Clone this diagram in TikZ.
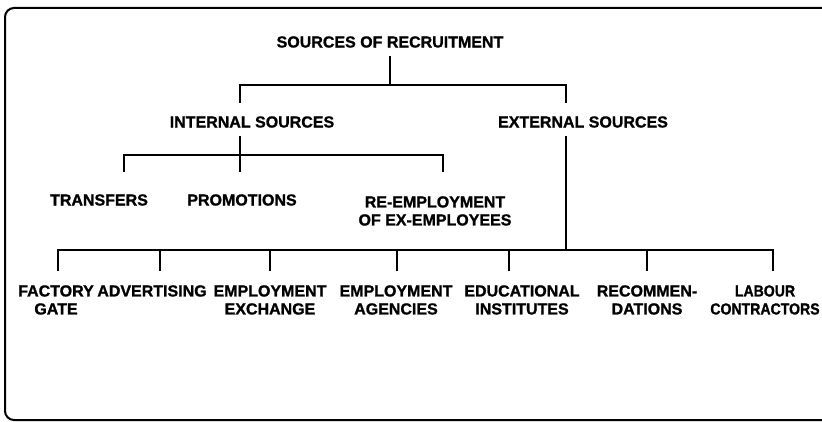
\documentclass[tikz,border=0pt]{standalone}
\usepackage{fontspec}
\newfontfamily\lblfont{Liberation Sans Bold}[FakeBold=1.2]
\newfontfamily\lblnarrow{Liberation Sans Bold}[FakeBold=1.2,FakeStretch=0.88]
\begin{document}
\begin{tikzpicture}[x=1pt,y=-1pt,line width=2.6pt,
	lbl/.style={font=\lblfont\fontsize{16}{18}\selectfont,align=center,inner xsep=1pt,inner ysep=7pt}]
	\clip[use as bounding box] (0,0) rectangle (822,422);
	\draw[line width=2pt,rounded corners=9pt] (5,8) rectangle (850,420);
	\node[lbl] (src) at (390,42) {SOURCES OF RECRUITMENT};
	\node[lbl] (int) at (252,122) {INTERNAL SOURCES};
	\node[lbl] (ext) at (583,122) {EXTERNAL SOURCES};
	\node[lbl] (tra) at (99,200) {TRANSFERS};
	\node[lbl] (pro) at (242,200) {PROMOTIONS};
	\node[lbl,anchor=north] (ree) at (435,188) {RE-EMPLOYMENT\\OF EX-EMPLOYEES};
	\node[lbl,anchor=north] (fac) at (56,277) {FACTORY\\GATE};
	\node[lbl,anchor=north] (adv) at (152,277) {ADVERTISING};
	\node[lbl,anchor=north] (exc) at (270,277) {EMPLOYMENT\\EXCHANGE};
	\node[lbl,anchor=north] (agn) at (396,277) {EMPLOYMENT\\AGENCIES};
	\node[lbl,anchor=north] (edu) at (522,277) {EDUCATIONAL\\INSTITUTES};
	\node[lbl,anchor=north] (rec) at (647,277) {RECOMMEN-\\DATIONS};
	\node[lbl,anchor=north,font=\lblnarrow\fontsize{16}{18}\selectfont] (lab) at (765,277) {LABOUR\\CONTRACTORS};
	\coordinate (topBar) at (390,85);
	\coordinate (intTop) at (240,103);
	\coordinate (extTop) at (566,103);
	\draw (src.south) -- (topBar);
	\draw (intTop) |- (topBar) -| (extTop);
	\coordinate (intBar) at (240,155);
	\coordinate (traTop) at (124,172);
	\coordinate (proTop) at (240,172);
	\coordinate (reeTop) at (443,172);
	\draw (int.south -| proTop) -- (proTop);
	\draw (traTop) |- (intBar) -| (reeTop);
	\coordinate (extBar) at (566,250);
	\draw (ext.south -| extBar) -- (extBar);
	\foreach \x [count=\i] in {58,160,270,397,509,647,773}
		\coordinate (d\i) at (\x,271);
	\draw (d1) |- (extBar) -| (d7);
	\foreach \i in {2,...,6}
		\draw (d\i) -- (d\i |- extBar);
\end{tikzpicture}
\end{document}
